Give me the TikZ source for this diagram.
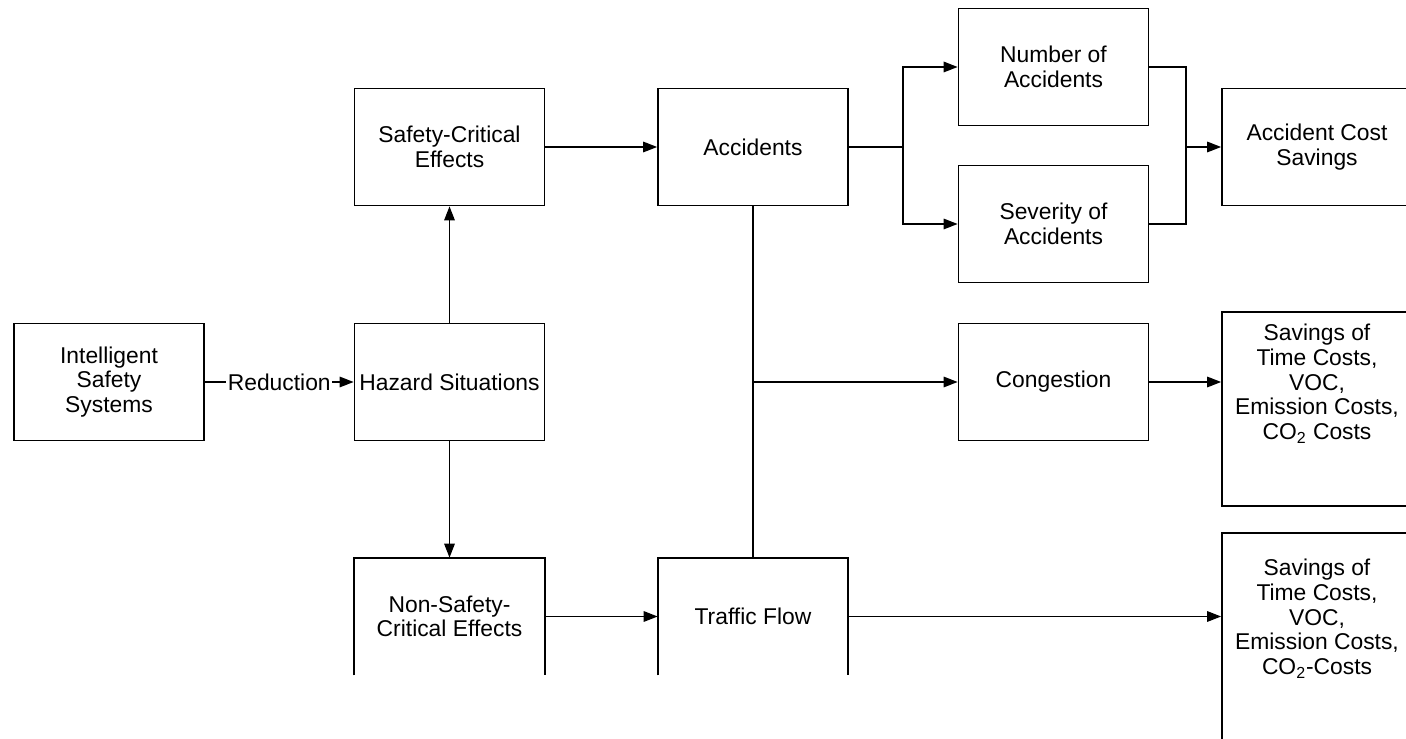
\documentclass[tikz,border=0pt]{standalone}
\usepackage{fontspec}
\setmainfont{Liberation Sans}
\usetikzlibrary{arrows.meta,positioning}

\begin{document}
\begin{tikzpicture}[x=0.02cm,y=-0.02cm,
  every node/.style={font=\fontsize{13}{14}\selectfont,align=center},
  blk/.style={draw,line width=1pt,minimum width=3.8cm,minimum height=2.34cm,inner sep=0pt},
  openblk/.style={minimum width=3.8cm,minimum height=2.34cm,inner sep=0pt},
  arr/.style={line width=.9pt,-{Triangle[length=8pt,width=6pt]}},
  ln/.style={line width=.9pt}]
\useasboundingbox (0,0) rectangle (1406,739);
\clip (0,0) rectangle (1406,739);
% boxes
\node[blk] (iss) at (109,382) {Intelligent\\Safety\\Systems};
\node[blk] (haz) at (449.5,382) {Hazard Situations};
\node[blk] (sce) at (449.5,147) {Safety-Critical\\Effects};
\node[openblk] (nsc) at (449.5,616.5) {Non-Safety-\\Critical Effects};
\node[blk] (acc) at (753,147) {Accidents};
\node[openblk] (tf) at (753,616.5) {Traffic Flow};
\node[blk] (num) at (1053.5,67) {Number of\\Accidents};
\node[blk] (sev) at (1053.5,224) {Severity of\\Accidents};
\node[blk] (cong) at (1053.5,382) {Congestion};
\node[blk] (acs) at (1317,147) {Accident Cost\\Savings};
\node[blk,minimum height=3.88cm] (sav1) at (1317,409) {};
\node[below=4pt of sav1.north] (sav1txt) {Savings of\\Time Costs,\\VOC,\\Emission Costs,\\CO\textsubscript{2} Costs};
\node[blk,minimum height=4.4cm] (sav2) at (1317,643) {};
\node[below=12pt of sav2.north] (sav2txt) {Savings of\\Time Costs,\\VOC,\\Emission Costs,\\CO\textsubscript{2}-Costs};
% open bottom boxes
\draw[line width=1pt] (nsc.south west) -- (nsc.north west) -- (nsc.north east) -- (nsc.south east);
\draw[line width=1pt] (tf.south west) -- (tf.north west) -- (tf.north east) -- (tf.south east);
% junctions
\coordinate (split1) at (903,147);
\coordinate (join1) at (1186,147);
\coordinate (tap) at (753,382);
% connectors
\draw[arr] (iss) -- node[fill=white,inner sep=1pt]{Reduction} (haz);
\draw[arr] (haz) -- (sce);
\draw[arr] (haz) -- (nsc);
\draw[arr] (sce) -- (acc);
\draw[arr] (nsc.east) -- (tf.west);
\draw[ln] (acc.east) -- (split1);
\draw[arr] (split1) |- (num.west);
\draw[arr] (split1) |- (sev.west);
\draw[ln] (num.east) -| (join1);
\draw[ln] (sev.east) -| (join1);
\draw[arr] (join1) -- (acs.west);
\draw[ln] (acc.south) -- (tf.north);
\draw[arr] (tap) -- (cong.west);
\draw[arr] (cong.east) -- (cong.east -| sav1.west);
\draw[arr] (tf.east) -- (tf.east -| sav2.west);
\end{tikzpicture}
\end{document}
